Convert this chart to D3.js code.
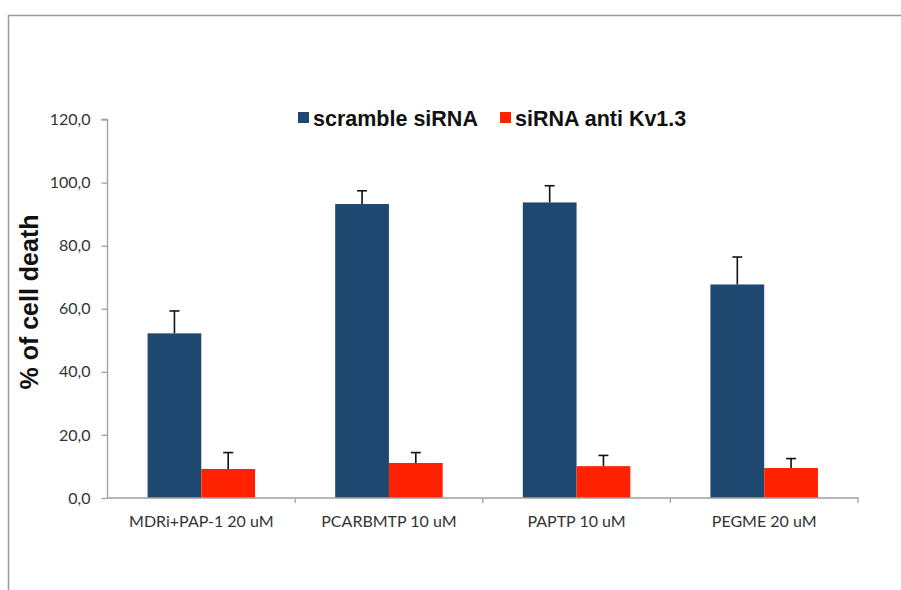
<!DOCTYPE html>
<html>
<head>
<meta charset="utf-8">
<script src="https://cdn.jsdelivr.net/npm/d3@7/dist/d3.min.js"></script>
<style>
  html, body { margin: 0; padding: 0; background: #fff; }
  svg { display: block; }
</style>
</head>
<body>
<div id="chart"></div>
<script>
// Treatments on the x axis
const categories = ["MDRi+PAP-1 20 uM", "PCARBMTP 10 uM", "PAPTP 10 uM", "PEGME 20 uM"];
// Series names
const seriesNames = ["scramble siRNA", "siRNA anti Kv1.3"];
// Mean % of cell death per treatment
const scrambleValues = [52.2, 93.2, 93.7, 67.7];
const antiKvValues = [9.2, 11.1, 10.1, 9.5];
// Upper error bar lengths
const scrambleErrors = [7.1, 4.2, 5.3, 8.7];
const antiKvErrors = [5.2, 3.3, 3.4, 3.0];
// Y tick values
const yTicks = [0, 20, 40, 60, 80, 100, 120];

const W = 901, H = 590;
const colors = ["#1f4870", "#ff2200"];
const margin = { left: 107.5, right: 901 - 858, top: 119.5, bottom: 590 - 498 };

const svg = d3.select("#chart").append("svg")
  .attr("width", W).attr("height", H);

// outer frame (top and left edges only)
svg.append("path")
  .attr("d", `M8.5,${H} V15.5 H${W}`)
  .attr("fill", "none").attr("stroke", "#9a9a9a").attr("stroke-width", 1.5);

const x0 = d3.scaleBand().domain(categories)
  .range([margin.left, W - margin.right]).paddingInner(0).paddingOuter(0);
// each pair of bars fills ~57% of its category slot (gap width 150%)
const groupPad = 0.427;
const x1 = d3.scaleBand().domain(seriesNames)
  .range([x0.bandwidth() * groupPad / 2, x0.bandwidth() * (1 - groupPad / 2)]);
const y = d3.scaleLinear().domain([0, 120]).range([H - margin.bottom, margin.top]);

const rows = categories.map((c, i) => ({
  cat: c,
  vals: [
    { s: seriesNames[0], v: scrambleValues[i], e: scrambleErrors[i], c: colors[0] },
    { s: seriesNames[1], v: antiKvValues[i], e: antiKvErrors[i], c: colors[1] }
  ]
}));

// bars
const g = svg.append("g");
const groups = g.selectAll("g.grp").data(rows).join("g")
  .attr("class", "grp")
  .attr("transform", d => `translate(${x0(d.cat)},0)`);

groups.selectAll("rect").data(d => d.vals).join("rect")
  .attr("x", d => x1(d.s))
  .attr("width", x1.bandwidth())
  .attr("y", d => y(d.v))
  .attr("height", d => y(0) - y(d.v))
  .attr("fill", d => d.c);

// error bars (upper only)
const eb = groups.selectAll("g.err").data(d => d.vals).join("g").attr("class", "err")
  .attr("stroke", "#111").attr("stroke-width", 1.6);
eb.append("line")
  .attr("x1", d => x1(d.s) + x1.bandwidth() / 2)
  .attr("x2", d => x1(d.s) + x1.bandwidth() / 2)
  .attr("y1", d => y(d.v)).attr("y2", d => y(d.v + d.e));
eb.append("line")
  .attr("x1", d => x1(d.s) + x1.bandwidth() / 2 - 5)
  .attr("x2", d => x1(d.s) + x1.bandwidth() / 2 + 5)
  .attr("y1", d => y(d.v + d.e)).attr("y2", d => y(d.v + d.e));

// y axis
const yAxis = svg.append("g")
  .attr("transform", `translate(${margin.left},0)`)
  .call(d3.axisLeft(y).tickValues(yTicks).tickSize(6).tickPadding(11)
    .tickFormat(d => d3.format(".1f")(d).replace(".", ",")));
yAxis.select(".domain").attr("stroke", "#a0a0a0").attr("stroke-width", 1.3)
  .attr("d", `M-6,${y(120)}H0V${y(0)}`);
yAxis.selectAll(".tick line").attr("stroke", "#a0a0a0").attr("stroke-width", 1.3);
yAxis.selectAll(".tick text")
  .attr("fill", "#333").style("font-family", "Lato, 'Open Sans', sans-serif")
  .style("font-size", "16px");

// x axis
const xAxis = svg.append("g")
  .attr("transform", `translate(0,${y(0)})`)
  .call(d3.axisBottom(x0).tickSize(0).tickPadding(18));
xAxis.select(".domain").attr("stroke", "#a0a0a0").attr("stroke-width", 1.3)
  .attr("d", `M${margin.left},0H${W - margin.right}V5`);
xAxis.selectAll(".tick text")
  .attr("fill", "#333").style("font-family", "Lato, 'Open Sans', sans-serif")
  .style("font-size", "16px");
// category separators
svg.append("g").selectAll("line").data(categories.slice(1)).join("line")
  .attr("x1", d => x0(d)).attr("x2", d => x0(d))
  .attr("y1", y(0)).attr("y2", y(0) + 5)
  .attr("stroke", "#a0a0a0").attr("stroke-width", 1.3);

// y axis title
svg.append("text")
  .attr("transform", `translate(38,302) rotate(-90)`)
  .attr("text-anchor", "middle")
  .style("font-family", "'Liberation Sans', Arial, sans-serif")
  .style("font-weight", "bold").style("font-size", "25px")
  .attr("fill", "#111")
  .text("% of cell death");

// legend
const legendX = [298, 500];
const legend = svg.append("g");
seriesNames.forEach((name, i) => {
  legend.append("rect")
    .attr("x", legendX[i]).attr("y", 112).attr("width", 11).attr("height", 11)
    .attr("fill", colors[i]);
  legend.append("text")
    .attr("x", legendX[i] + 15).attr("y", 126)
    .style("font-family", "'Liberation Sans', Arial, sans-serif")
    .style("font-weight", "bold").style("font-size", "21.5px")
    .attr("fill", "#111")
    .text(name);
});
</script>
</body>
</html>
